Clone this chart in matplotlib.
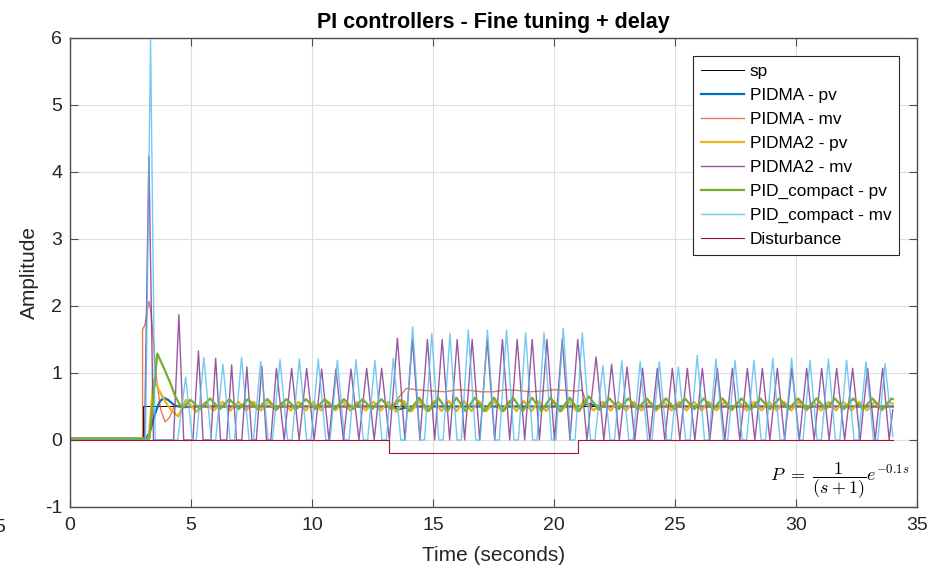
import numpy as np
import matplotlib
matplotlib.use('Agg')
import matplotlib.pyplot as plt

plt.rcParams['font.family'] = ['Liberation Sans', 'DejaVu Sans']
plt.rcParams['mathtext.fontset'] = 'cm'
plt.rcParams['axes.unicode_minus'] = False

# ---- data (time [s], amplitude) ----
sp = [(0, 0), (3.0, 0), (3.0, 0.5), (34.0, 0.5)]

disturbance = [(0, 0), (13.2, 0), (13.2, -0.2), (21.0, -0.2), (21.0, 0), (34.0, 0)]

pidma_pv = [(0, 0.02), (3.15, 0.02), (3.30, 0.12), (3.50, 0.38), (3.70, 0.57), (3.87, 0.63),
            (4.05, 0.60), (4.34, 0.51), (4.70, 0.49), (5.2, 0.5), (13.2, 0.5), (13.6, 0.46),
            (14.1, 0.5), (21.0, 0.5), (21.4, 0.54), (21.9, 0.5), (34.0, 0.5)]

pidma_mv = [(0, 0), (3.0, 0), (3.0, 1.65), (3.1, 1.72), (3.2, 1.95), (3.27, 2.07), (3.35, 1.9),
            (3.44, 1.5), (3.58, 0.9), (3.75, 0.45), (3.93, 0.27), (4.1, 0.33), (4.34, 0.52),
            (4.7, 0.5), (13.3, 0.5), (13.5, 0.6), (13.9, 0.77), (14.3, 0.75), (15.0, 0.73),
            (15.5, 0.72), (16.0, 0.75), (16.5, 0.74), (17.0, 0.72), (17.5, 0.72), (18.0, 0.75),
            (18.5, 0.74), (19.0, 0.72), (19.5, 0.73), (20.0, 0.75), (20.5, 0.74), (21.0, 0.73),
            (21.15, 0.75), (21.35, 0.55), (21.6, 0.45), (22.0, 0.5), (34.0, 0.5)]

pidma2_pv = [(0, 0.02), (3.25, 0.02), (3.45, 0.90), (3.60, 0.80), (3.80, 0.66), (4.00, 0.54),
             (4.20, 0.44), (4.47, 0.35), (4.79, 0.60), (5.23, 0.42), (5.58, 0.56), (5.95, 0.44),
             (6.30, 0.57), (6.63, 0.44), (6.96, 0.57), (7.28, 0.44), (7.59, 0.57), (7.90, 0.44),
             (8.21, 0.57), (8.51, 0.44), (8.81, 0.57), (9.13, 0.44), (9.44, 0.57), (9.75, 0.44),
             (10.06, 0.57), (10.37, 0.44), (10.68, 0.57), (10.98, 0.44), (11.27, 0.57), (11.58, 0.44),
             (11.89, 0.57), (12.22, 0.44), (12.54, 0.57), (12.85, 0.44), (13.16, 0.57), (13.48, 0.42),
             (13.81, 0.58), (14.12, 0.43), (14.43, 0.58), (14.74, 0.43), (15.05, 0.58), (15.35, 0.43),
             (15.66, 0.58), (15.97, 0.43), (16.28, 0.58), (16.59, 0.43), (16.90, 0.58), (17.21, 0.43),
             (17.52, 0.58), (17.84, 0.43), (18.15, 0.58), (18.45, 0.43), (18.76, 0.58), (19.07, 0.43),
             (19.38, 0.58), (19.68, 0.43), (19.99, 0.58), (20.31, 0.43), (20.62, 0.58), (20.94, 0.43),
             (21.26, 0.60), (21.64, 0.44), (22.02, 0.57), (22.34, 0.44), (22.66, 0.57), (22.98, 0.44),
             (23.30, 0.57), (23.62, 0.44), (23.94, 0.57), (24.24, 0.44), (24.55, 0.57), (24.86, 0.44),
             (25.17, 0.57), (25.48, 0.44), (25.79, 0.57), (26.10, 0.44), (26.41, 0.57), (26.72, 0.44),
             (27.03, 0.57), (27.34, 0.44), (27.65, 0.57), (27.96, 0.44), (28.27, 0.57), (28.58, 0.44),
             (28.89, 0.57), (29.20, 0.44), (29.51, 0.57), (29.81, 0.44), (30.11, 0.57), (30.42, 0.44),
             (30.72, 0.57), (31.03, 0.44), (31.34, 0.57), (31.65, 0.44), (31.96, 0.57), (32.29, 0.44),
             (32.62, 0.57), (32.93, 0.44), (33.24, 0.57), (33.55, 0.44), (33.86, 0.57), (34.0, 0.54)]

pidma2_mv = [(0, 0), (3.08, 0), (3.26, 4.24), (3.45, 0), (4.28, 0), (4.50, 1.87), (4.70, 0),
             (5.08, 0), (5.31, 1.33), (5.50, 0), (5.82, 0), (6.02, 1.22), (6.22, 0), (6.48, 0),
             (6.68, 1.12), (6.88, 0), (7.10, 0), (7.31, 1.09), (7.52, 0), (7.70, 0), (7.93, 1.10),
             (8.12, 0), (8.30, 0), (8.53, 1.07), (8.85, 0), (9.16, 1.07), (9.47, 0), (9.78, 1.07),
             (10.09, 0), (10.40, 1.06), (10.70, 0), (10.99, 1.06), (11.30, 0), (11.61, 1.06),
             (11.94, 0), (12.26, 1.07), (12.57, 0), (12.88, 1.07), (13.20, 0), (13.53, 1.52),
             (13.84, 0), (14.15, 1.50), (14.46, 0), (14.77, 1.50), (15.07, 0), (15.38, 1.50),
             (15.69, 0), (16.00, 1.50), (16.31, 0), (16.62, 1.50), (16.93, 0), (17.24, 1.50),
             (17.55, 0), (17.87, 1.50), (18.17, 0), (18.48, 1.50), (18.79, 0), (19.10, 1.50),
             (19.40, 0), (19.71, 1.50), (20.02, 0), (20.34, 1.50), (20.66, 0), (20.98, 1.50),
             (21.36, 0), (21.74, 1.24), (22.06, 0), (22.38, 1.13), (22.70, 0), (23.02, 1.09),
             (23.34, 0), (23.66, 1.07), (23.96, 0), (24.27, 1.07), (24.58, 0), (24.89, 1.07),
             (25.20, 0), (25.51, 1.07), (25.82, 0), (26.13, 1.07), (26.44, 0), (26.75, 1.07),
             (27.06, 0), (27.37, 1.07), (27.68, 0), (27.99, 1.07), (28.30, 0), (28.61, 1.07),
             (28.92, 0), (29.23, 1.07), (29.53, 0), (29.83, 1.07), (30.14, 0), (30.44, 1.07),
             (30.75, 0), (31.06, 1.07), (31.37, 0), (31.68, 1.07), (32.01, 0), (32.34, 1.07),
             (32.65, 0), (32.96, 1.07), (33.27, 0), (33.58, 1.07), (33.85, 0), (34.0, 0.45)]

pidc_pv = [(0, 0.02), (3.28, 0.02), (3.61, 1.29), (3.87, 1.08), (4.15, 0.85), (4.34, 0.66),
           (4.55, 0.52), (4.70, 0.49), (4.98, 0.60), (5.38, 0.46), (5.79, 0.62), (6.19, 0.46),
           (6.59, 0.61), (6.97, 0.46), (7.36, 0.61), (7.75, 0.46), (8.15, 0.61), (8.55, 0.46),
           (8.95, 0.61), (9.35, 0.46), (9.75, 0.61), (10.14, 0.46), (10.53, 0.61), (10.92, 0.46),
           (11.32, 0.61), (11.70, 0.46), (12.09, 0.61), (12.48, 0.46), (12.87, 0.61), (13.25, 0.46),
           (13.63, 0.60), (14.03, 0.43), (14.43, 0.63), (14.82, 0.43), (15.22, 0.63), (15.60, 0.43),
           (15.97, 0.63), (16.35, 0.43), (16.73, 0.63), (17.12, 0.43), (17.52, 0.63), (17.91, 0.43),
           (18.31, 0.63), (18.70, 0.43), (19.10, 0.63), (19.48, 0.43), (19.86, 0.63), (20.25, 0.43),
           (20.65, 0.63), (21.04, 0.43), (21.44, 0.65), (21.86, 0.45), (22.29, 0.62), (22.68, 0.46),
           (23.07, 0.62), (23.45, 0.46), (23.83, 0.62), (24.22, 0.46), (24.62, 0.62), (25.01, 0.46),
           (25.41, 0.62), (25.80, 0.46), (26.19, 0.62), (26.57, 0.46), (26.96, 0.62), (27.35, 0.46),
           (27.75, 0.62), (28.14, 0.46), (28.53, 0.62), (28.92, 0.46), (29.31, 0.62), (29.70, 0.46),
           (30.09, 0.62), (30.47, 0.46), (30.85, 0.62), (31.23, 0.46), (31.61, 0.62), (31.98, 0.46),
           (32.36, 0.62), (32.76, 0.46), (33.16, 0.62), (33.55, 0.46), (33.95, 0.62), (34.0, 0.61)]

pidc_mv = [(0, 0), (3.12, 0), (3.33, 5.97), (3.52, 0), (4.45, 0), (4.78, 0.94), (5.06, 0),
           (5.22, 0), (5.53, 1.23), (5.84, 0), (6.02, 0), (6.32, 1.13), (6.62, 0), (6.80, 0),
           (7.09, 1.23), (7.40, 0), (7.58, 0), (7.88, 1.17), (8.19, 0), (8.37, 0), (8.68, 1.20),
           (8.99, 0), (9.17, 0), (9.48, 1.21), (9.78, 0), (9.96, 0), (10.26, 1.21), (10.57, 0),
           (10.75, 0), (11.05, 1.19), (11.35, 0), (11.53, 0), (11.82, 1.20), (12.12, 0), (12.30, 0),
           (12.60, 1.19), (12.89, 0), (13.07, 0), (13.36, 1.22), (13.67, 0), (13.85, 0), (14.16, 1.69),
           (14.47, 0), (14.65, 0), (14.95, 1.59), (15.24, 0), (15.42, 0), (15.70, 1.59), (15.99, 0),
           (16.17, 0), (16.46, 1.64), (16.77, 0), (16.95, 0), (17.25, 1.64), (17.56, 0), (17.74, 0),
           (18.04, 1.64), (18.35, 0), (18.53, 0), (18.83, 1.60), (19.12, 0), (19.30, 0), (19.59, 1.60),
           (19.90, 0), (20.08, 0), (20.38, 1.67), (20.69, 0), (20.87, 0), (21.17, 1.60), (21.51, 0),
           (21.69, 0), (22.02, 1.11), (22.32, 0), (22.50, 0), (22.80, 1.18), (23.09, 0), (23.27, 0),
           (23.56, 1.17), (23.87, 0), (24.05, 0), (24.35, 1.17), (24.66, 0), (24.84, 0), (25.14, 1.09),
           (25.44, 0), (25.62, 0), (25.92, 1.26), (26.22, 0), (26.40, 0), (26.69, 1.21), (27.00, 0),
           (27.18, 0), (27.48, 1.19), (27.78, 0), (27.96, 0), (28.26, 1.19), (28.56, 0), (28.74, 0),
           (29.04, 1.22), (29.34, 0), (29.52, 0), (29.82, 1.22), (30.11, 0), (30.29, 0), (30.58, 1.19),
           (30.87, 0), (31.05, 0), (31.34, 1.21), (31.63, 0), (31.81, 0), (32.09, 1.19), (32.40, 0),
           (32.58, 0), (32.89, 1.17), (33.20, 0), (33.38, 0), (33.68, 1.14), (34.0, 0.05)]

# (series, label, colour, linewidth, alpha) in plotting order
series = [
    (sp, 'sp', '#000000', 0.7, 1.0),
    (pidma_pv, 'PIDMA - pv', '#0072BD', 1.6, 1.0),
    (pidma_mv, 'PIDMA - mv', '#D95319', 1.0, 0.75),
    (pidma2_pv, 'PIDMA2 - pv', '#EDB120', 1.6, 1.0),
    (pidma2_mv, 'PIDMA2 - mv', '#7E2F8E', 1.0, 0.8),
    (pidc_pv, 'PID_compact - pv', '#77AC30', 1.6, 1.0),
    (pidc_mv, 'PID_compact - mv', '#4DBEEE', 1.0, 0.8),
    (disturbance, 'Disturbance', '#A2142F', 0.8, 1.0),
]

fig = plt.figure(figsize=(9.48, 5.71), dpi=100)
ax = fig.add_axes([0.0738, 0.1121, 0.8935, 0.8214])

for data, label, col, lw, a in series:
    d = np.array(data)
    ax.plot(d[:, 0], d[:, 1], color=col, lw=lw, alpha=a, label=label)

ax.set_xlim(0, 35)
ax.set_ylim(-1, 6)
ax.set_xticks(np.arange(0, 36, 5))
ax.set_yticks(np.arange(-1, 7, 1))
ax.grid(True, color='#DFDFDF', lw=0.8)
ax.set_axisbelow(True)
for s in ax.spines.values():
    s.set_color('#4D4D4D')
    s.set_linewidth(1.0)
ax.tick_params(direction='in', length=6, width=0.8, color='#4D4D4D',
               top=True, right=True, labelsize=14, labelcolor='#262626')
ax.tick_params(axis='x', pad=7.5)
ax.tick_params(axis='y', pad=5.5)

ax.set_title('PI controllers - Fine tuning + delay', fontsize=15.5, fontweight='bold', pad=7)
ax.set_xlabel('Time (seconds)', fontsize=15, color='#262626', labelpad=8)
ax.set_ylabel('Amplitude', fontsize=15, color='#262626', labelpad=4)

leg = ax.legend(loc='upper right', fontsize=12.4, fancybox=False, framealpha=1,
                edgecolor='#262626', borderaxespad=1.05, handlelength=2.5,
                handletextpad=0.33, labelspacing=0.52, borderpad=0.45)
leg.get_frame().set_linewidth(0.8)

ax.text(0.9906, 0.0554, r'$P\ =\ \dfrac{1}{(s+1)}e^{-0.1s}$', transform=ax.transAxes,
        ha='right', va='center', fontsize=13)

# leftover tick label at the figure edge
fig.text(5 / 948, 1 - 528 / 571, '5', ha='right', va='center', fontsize=14, color='#262626')

fig.savefig('out.png', dpi=100)
